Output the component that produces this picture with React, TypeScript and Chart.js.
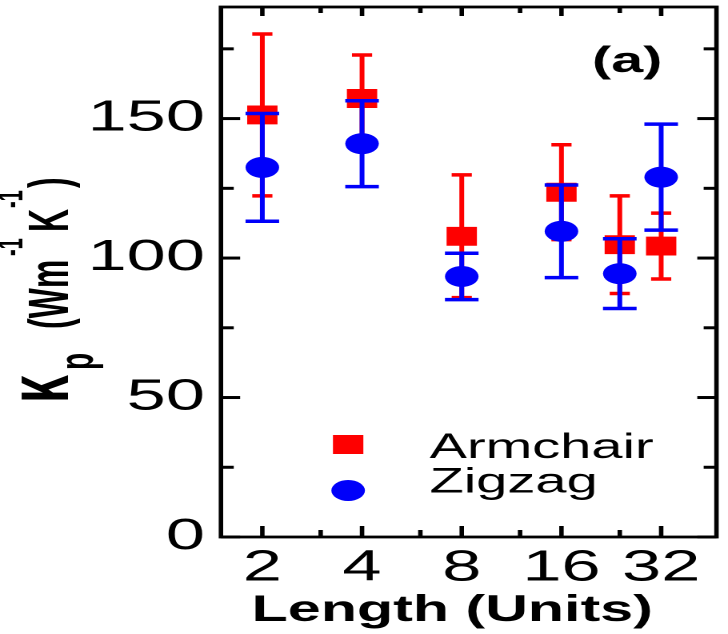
import React, { useEffect, useRef } from "react";
import { Chart, registerables } from "chart.js";

Chart.register(...registerables);

// ---------------- data ----------------
const lengths = [2, 4, 8, 16, 24, 32];
const armchairK = [151.3, 157.2, 107.8, 123.6, 104.8, 104.3];
const armchairErr = [29, 15.6, 22, 17, 17.5, 11.8];
const zigzagK = [132.5, 141, 93.4, 109.6, 94.4, 129];
const zigzagErr = [19.3, 15.4, 8.3, 16.6, 12.5, 19];
const xTickValues = [2, 4, 8, 16, 32];
const xMinorTickValues = [3, 6, 12, 24];
const yTickValues = [0, 50, 100, 150];
const yMinorTickValues = [25, 75, 125, 175];
const seriesNames = ["Armchair", "Zigzag"];

// ---------------- layout / style ----------------
const STRETCH = 1.6; // the reference figure is stretched horizontally
const INNER_W = 455;
const INNER_H = 634;
const FONT = "'Liberation Sans', Arial, Helvetica, sans-serif";
const RED = "#fe0000";
const BLUE = "#0000fa";

const errorBarPlugin = {
  id: "errorBars",
  beforeDatasetDraw(chart: any, args: any) {
    const ds: any = chart.data.datasets[args.index];
    const errs: number[] | undefined = ds.errors;
    if (!errs) return;
    const { ctx } = chart;
    const xs = chart.scales.x;
    const ys = chart.scales.y;
    ctx.save();
    ctx.strokeStyle = ds.backgroundColor;
    ctx.lineCap = "butt";
    ds.data.forEach((p: any, j: number) => {
      const x = xs.getPixelForValue(p.x);
      const top = ys.getPixelForValue(p.y + errs[j]);
      const bot = ys.getPixelForValue(p.y - errs[j]);
      ctx.lineWidth = 3;
      ctx.beginPath();
      ctx.moveTo(x, top);
      ctx.lineTo(x, bot);
      ctx.stroke();
      ctx.lineWidth = 3.5;
      const hw = ds.capHalfWidth;
      ctx.beginPath();
      ctx.moveTo(x - hw, top);
      ctx.lineTo(x + hw, top);
      ctx.moveTo(x - hw, bot);
      ctx.lineTo(x + hw, bot);
      ctx.stroke();
    });
    ctx.restore();
  },
};

const decorPlugin = {
  id: "decor",
  afterDraw(chart: any) {
    const { ctx, chartArea: a } = chart;
    const xs = chart.scales.x;
    const ys = chart.scales.y;
    ctx.save();
    ctx.strokeStyle = "#000";
    ctx.lineCap = "butt";

    // frame
    ctx.lineWidth = 2.8;
    ctx.strokeRect(a.left, a.top, a.right - a.left, a.bottom - a.top);

    const seg = (x1: number, y1: number, x2: number, y2: number) => {
      ctx.beginPath();
      ctx.moveTo(x1, y1);
      ctx.lineTo(x2, y2);
      ctx.stroke();
    };

    // x ticks (inward, bottom and top)
    ctx.lineWidth = 2.8;
    xTickValues.forEach((v) => {
      const px = xs.getPixelForValue(v);
      seg(px, a.bottom, px, a.bottom - 11);
      seg(px, a.top, px, a.top + 9);
    });
    xMinorTickValues.forEach((v) => {
      const px = xs.getPixelForValue(v);
      seg(px, a.bottom, px, a.bottom - 7);
      seg(px, a.top, px, a.top + 6);
    });

    // y ticks (inward, left and right)
    ctx.lineWidth = 3;
    yTickValues.forEach((v) => {
      const py = ys.getPixelForValue(v);
      seg(a.left, py, a.left + 12, py);
      seg(a.right, py, a.right - 12, py);
    });
    yMinorTickValues.forEach((v) => {
      const py = ys.getPixelForValue(v);
      seg(a.left, py, a.left + 8, py);
      seg(a.right, py, a.right - 8, py);
    });

    // panel label
    ctx.fillStyle = "#000";
    ctx.textAlign = "left";
    ctx.textBaseline = "alphabetic";
    ctx.font = `bold 36px ${FONT}`;
    ctx.fillText("(a)", 370, 72);

    // legend
    const dsA: any = chart.data.datasets[0];
    const dsZ: any = chart.data.datasets[1];
    const mx = 217.6;
    ctx.fillStyle = dsA.backgroundColor;
    const side = 19;
    ctx.fillRect(mx - side / 2, 444.5 - side / 2, side, side);
    ctx.fillStyle = dsZ.backgroundColor;
    ctx.beginPath();
    ctx.arc(mx, 490.5, 10.5, 0, Math.PI * 2);
    ctx.fill();
    ctx.fillStyle = "#000";
    ctx.font = `35px ${FONT}`;
    ctx.fillText(dsA.label, 268.5, 458);
    ctx.fillText(dsZ.label, 268.5, 492.5);

    // y-axis title: κp (Wm-1K-1), rotated
    const pieces = [
      { t: "κ", size: 50, start: 403, dy: 0 },
      { t: "p", size: 28, start: 370, dy: 14 },
      { t: "(Wm", size: 32, start: 329, dy: 0 },
      { t: "-1", size: 20, start: 256, dy: -26 },
      { t: "K", size: 32, start: 232, dy: 0 },
      { t: "-1", size: 20, start: 208, dy: -26 },
      { t: ")", size: 32, start: 188, dy: 0 },
    ];
    ctx.save();
    ctx.translate(42.5, 0);
    ctx.scale(1.1, 1);
    ctx.rotate(-Math.PI / 2);
    pieces.forEach((p) => {
      ctx.font = `bold ${p.size}px ${FONT}`;
      ctx.fillText(p.t, -p.start, p.dy);
    });
    ctx.restore();

    ctx.restore();
  },
};

export default function App() {
  const ref = useRef<HTMLCanvasElement | null>(null);

  useEffect(() => {
    document.body.style.margin = "0";
    if (!ref.current) return;
    Chart.defaults.font.family = FONT;
    const chart = new Chart(ref.current, {
      type: "scatter",
      data: {
        datasets: [
          {
            label: seriesNames[0],
            data: lengths.map((x, i) => ({ x, y: armchairK[i] })),
            backgroundColor: RED,
            borderColor: RED,
            pointStyle: "rect",
            pointRadius: 13.4,
            pointBorderWidth: 0,
            order: 2,
            errors: armchairErr,
            capHalfWidth: 6.3,
          } as any,
          {
            label: seriesNames[1],
            data: lengths.map((x, i) => ({ x, y: zigzagK[i] })),
            backgroundColor: BLUE,
            borderColor: BLUE,
            pointStyle: "circle",
            pointRadius: 10.5,
            pointBorderWidth: 0,
            order: 1,
            errors: zigzagErr,
            capHalfWidth: 10.5,
          } as any,
        ],
      },
      options: {
        responsive: false,
        animation: false,
        devicePixelRatio: 2,
        events: [],
        layout: {
          autoPadding: false,
          padding: { top: 7, right: 7.2, left: 0, bottom: 0 },
        },
        plugins: {
          legend: { display: false },
          tooltip: { enabled: false },
        },
        scales: {
          x: {
            type: "logarithmic",
            position: "bottom",
            min: 1.5,
            max: 47,
            grid: { display: false, drawTicks: false },
            border: { display: false },
            afterBuildTicks: (s: any) => {
              s.ticks = xTickValues.map((v) => ({ value: v }));
            },
            afterFit: (s: any) => {
              s.height = 97;
              s.paddingLeft = 0;
              s.paddingRight = 0;
            },
            ticks: {
              autoSkip: false,
              maxRotation: 0,
              minRotation: 0,
              padding: 5,
              color: "#000",
              font: { family: FONT, size: 44 },
              callback: (v: any) => String(v),
            },
            title: {
              display: true,
              text: "Length (Units)  ",
              color: "#000",
              font: { family: FONT, size: 37, weight: "bold" },
              padding: { top: 0, bottom: 1 },
            },
          },
          y: {
            type: "linear",
            position: "left",
            min: 0,
            max: 190,
            grid: { display: false, drawTicks: false },
            border: { display: false },
            afterBuildTicks: (s: any) => {
              s.ticks = yTickValues.map((v) => ({ value: v }));
            },
            afterFit: (s: any) => {
              s.width = 138.1;
              s.paddingTop = 0;
              s.paddingBottom = 0;
            },
            ticks: {
              padding: 10,
              color: "#000",
              font: { family: FONT, size: 44 },
              callback: (v: any) => String(v),
            },
          },
        },
      } as any,
      plugins: [errorBarPlugin, decorPlugin],
    });
    return () => chart.destroy();
  }, []);

  return (
    <div
      style={{
        position: "relative",
        width: 728,
        height: 634,
        overflow: "hidden",
        background: "#fff",
      }}
    >
      <canvas
        ref={ref}
        width={INNER_W}
        height={INNER_H}
        style={{ transform: `scaleX(${STRETCH})`, transformOrigin: "0 0" }}
      />
    </div>
  );
}
